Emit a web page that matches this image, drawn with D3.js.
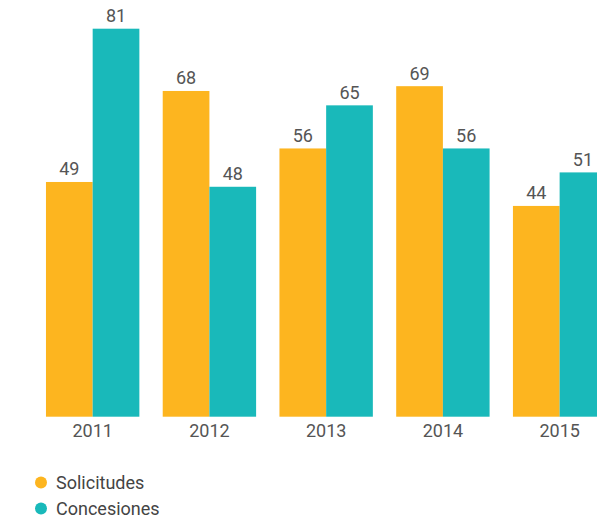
<!DOCTYPE html>
<html>
<head>
<meta charset="utf-8">
<script src="https://cdn.jsdelivr.net/npm/d3@7"></script>
<style>
  html, body { margin: 0; padding: 0; background: #fff; overflow: hidden; }
  svg { display: block; font-family: Roboto, "Noto Sans", sans-serif; }
</style>
</head>
<body>
<svg id="chart" width="597" height="519"></svg>
<script>
// Yearly patent counts
const years = ["2011", "2012", "2013", "2014", "2015"];
const solicitudes = [49, 68, 56, 69, 44];
const concesiones = [81, 48, 65, 56, 51];
const seriesNames = ["Solicitudes", "Concesiones"];
const seriesColors = ["#FDB51F", "#19B9BA"];

const seriesValues = [solicitudes, concesiones];
const rows = years.map((y, i) => ({
  year: y,
  values: seriesNames.map((name, s) => ({ name, value: seriesValues[s][i], color: seriesColors[s] }))
}));

const svg = d3.select("#chart");
const width = 597;

const x0 = d3.scaleBand()
  .domain(years)
  .range([34.3, 618])
  .paddingInner(0.2)
  .paddingOuter(0.1);

const x1 = d3.scaleBand()
  .domain(seriesNames)
  .range([0, x0.bandwidth()]);

const y = d3.scaleLinear()
  .domain([0, 81])
  .range([416.7, 28.7]);

const groups = svg.append("g")
  .selectAll("g")
  .data(rows)
  .join("g")
  .attr("transform", d => `translate(${x0(d.year)},0)`);

groups.selectAll("rect")
  .data(d => d.values)
  .join("rect")
  .attr("x", d => x1(d.name))
  .attr("y", d => y(d.value))
  .attr("width", x1.bandwidth())
  .attr("height", d => y(0) - y(d.value))
  .attr("fill", d => d.color);

groups.selectAll("text.value")
  .data(d => d.values)
  .join("text")
  .attr("class", "value")
  .attr("x", d => x1(d.name) + x1.bandwidth() / 2)
  .attr("y", d => y(d.value) - 6.5)
  .attr("text-anchor", "middle")
  .attr("font-size", 18)
  .attr("fill", "#555")
  .text(d => d.value);

// Category axis, labels only
const xAxis = svg.append("g")
  .attr("transform", `translate(0,${y(0)})`)
  .call(d3.axisBottom(x0).tickSize(0).tickPadding(8));
xAxis.select(".domain").remove();
xAxis.selectAll("text")
  .attr("font-size", 18)
  .attr("font-family", "Roboto, sans-serif")
  .attr("fill", "#555")
  .attr("dy", "0.71em");

// Legend
const legend = svg.append("g")
  .selectAll("g")
  .data(seriesNames)
  .join("g")
  .attr("transform", (d, i) => `translate(41,${482.5 + i * 26})`);

legend.append("circle")
  .attr("r", 6)
  .attr("fill", (d, i) => seriesColors[i]);

legend.append("text")
  .attr("x", 15)
  .attr("dy", "0.35em")
  .attr("font-size", 18)
  .attr("fill", "#444")
  .text(d => d);
</script>
</body>
</html>
